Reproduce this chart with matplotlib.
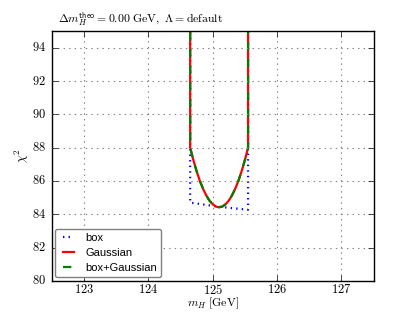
import numpy as np
import matplotlib
matplotlib.use('Agg')
import matplotlib.pyplot as plt
from matplotlib.ticker import FuncFormatter

# values
mh_gauss = [124.65, 124.65, 124.70, 124.75, 124.80, 124.85, 124.90, 124.95, 125.00, 125.05,
            125.10, 125.15, 125.20, 125.25, 125.30, 125.35, 125.40, 125.45, 125.50, 125.55, 125.55]
chi2_gauss = [100.0, 88.00, 87.25, 86.59, 86.01, 85.53, 85.13, 84.82, 84.60, 84.46,
              84.42, 84.46, 84.60, 84.82, 85.13, 85.53, 86.01, 86.59, 87.25, 88.00, 100.0]

mh_box = [124.65, 124.65, 124.65, 125.10, 125.55, 125.55, 125.55]
chi2_box = [100.0, 88.00, 84.70, 84.45, 84.27, 88.00, 100.0]

# box+Gaussian lies on top of the Gaussian curve
mh_both = mh_gauss
chi2_both = chi2_gauss

xticks = [123, 124, 125, 126, 127]
yticks = [80, 82, 84, 86, 88, 90, 92, 94]

plt.style.use('classic')
plt.rcParams['mathtext.fontset'] = 'cm'

fig = plt.figure(figsize=(4.15, 3.12), dpi=100)
ax = fig.add_axes([0.125, 0.1, 0.775, 0.8])

ax.plot(mh_box, chi2_box, color='b', linestyle=':', linewidth=1.6, label='box')
ax.plot(mh_gauss, chi2_gauss, color='r', linestyle='-', linewidth=1.6, label='Gaussian')
ax.plot(mh_both, chi2_both, color='g', linestyle='--', linewidth=1.6, label='box+Gaussian')

ax.set_xlim(122.5, 127.5)
ax.set_ylim(80, 95)
ax.set_xticks(xticks)
ax.set_yticks(yticks)
tick_fmt = FuncFormatter(lambda v, pos: r'$%d$' % v)
ax.xaxis.set_major_formatter(tick_fmt)
ax.yaxis.set_major_formatter(tick_fmt)
ax.tick_params(labelsize=9)
ax.tick_params(axis='x', pad=1.5)
ax.grid(True, color='gray', linestyle=':', linewidth=0.8)

ax.set_xlabel(r'$m_H\ [\mathrm{GeV}]$', fontsize=8.5)
ax.set_ylabel(r'$\chi^2$', fontsize=9)
ax.xaxis.set_label_coords(0.5, -0.061)
ax.yaxis.set_label_coords(-0.065, 0.5)
ax.text(0.02, 1.012, r'$\Delta m_H^{\mathsf{theo}} = 0.00\ \mathrm{GeV},\ \Lambda = \mathrm{default}$',
        transform=ax.transAxes, fontsize=8.5, ha='left', va='bottom')

leg = ax.legend(loc='lower left', prop={'family': 'Liberation Sans', 'size': 8},
                fancybox=True, handlelength=1.6, labelspacing=0.45,
                borderaxespad=0.3, handletextpad=0.7)
leg.get_frame().set_edgecolor('0.5')

fig.savefig('out.png', dpi=100)
